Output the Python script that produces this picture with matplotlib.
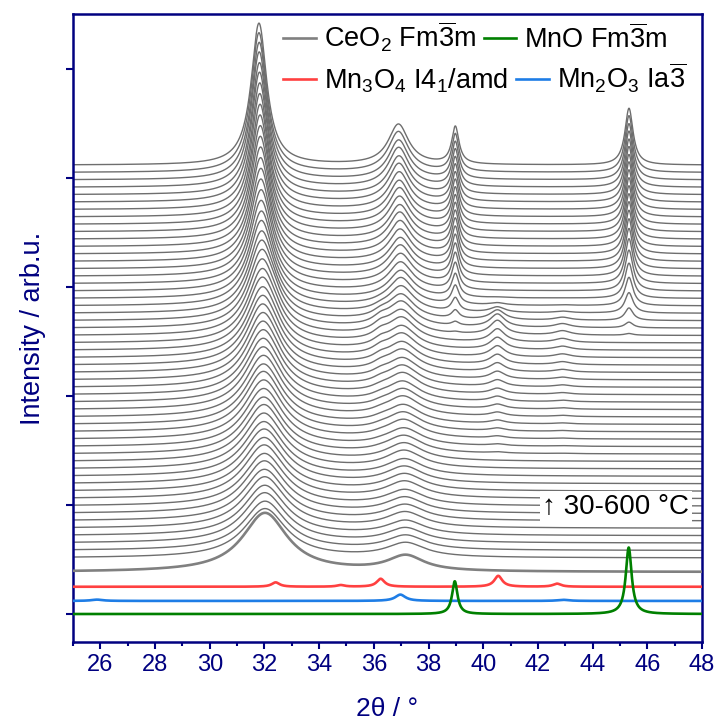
import numpy as np
import matplotlib
matplotlib.use('Agg')
import matplotlib.pyplot as plt
from matplotlib.ticker import MultipleLocator

plt.rcParams['font.family'] = ['Liberation Sans', 'DejaVu Sans']
plt.rcParams['mathtext.fontset'] = 'custom'
plt.rcParams['mathtext.rm'] = 'Liberation Sans'
plt.rcParams['mathtext.it'] = 'Liberation Sans'
plt.rcParams['mathtext.default'] = 'regular'

navy = '#000080'

# reference patterns: peak positions (2theta), heights, fwhm
ceo2_ref_pos = [32.02, 37.17]
ceo2_ref_h = [0.54, 0.14]
ceo2_ref_w = [2.0, 1.6]
mn3o4_ref_pos = [32.41, 34.79, 36.25, 40.55, 42.70]
mn3o4_ref_h = [0.040, 0.015, 0.073, 0.100, 0.028]
mn3o4_ref_w = [0.35, 0.35, 0.35, 0.35, 0.35]
mn2o3_ref_pos = [25.88, 36.97, 42.93]
mn2o3_ref_h = [0.012, 0.058, 0.010]
mn2o3_ref_w = [0.5, 0.45, 0.5]
mno_ref_pos = [38.96, 45.32]
mno_ref_h = [0.30, 0.61]
mno_ref_w = [0.24, 0.26]

# vertical position of the reference baselines
ref_base = {'ceo2': 0.385, 'mn3o4': 0.25, 'mn2o3': 0.12, 'mno': 0.0}

# in situ scans, 30-600 °C, bottom to top
scan_first_base = 0.514
scan_step = 0.068

ceo2_a_pos = [32.02, 32.02, 32.01, 32.01, 32.01, 32.00, 32.00, 32.00, 31.99, 31.99,
              31.99, 31.98, 31.98, 31.98, 31.97, 31.97, 31.97, 31.96, 31.96, 31.96,
              31.95, 31.95, 31.95, 31.94, 31.94, 31.93, 31.93, 31.93, 31.92, 31.92,
              31.91, 31.91, 31.90, 31.90, 31.89, 31.89, 31.88, 31.88, 31.87, 31.87,
              31.86, 31.86, 31.85, 31.85, 31.84, 31.84, 31.83, 31.83, 31.82, 31.82,
              31.81, 31.81, 31.80, 31.80]
ceo2_a_h = [0.45, 0.45, 0.46, 0.46, 0.47, 0.47, 0.48, 0.48, 0.49, 0.49,
            0.50, 0.50, 0.51, 0.52, 0.52, 0.53, 0.54, 0.55, 0.55, 0.56,
            0.57, 0.58, 0.59, 0.60, 0.61, 0.62, 0.63, 0.64, 0.66, 0.67,
            0.69, 0.71, 0.73, 0.75, 0.78, 0.80, 0.83, 0.86, 0.89, 0.92,
            0.95, 0.98, 1.01, 1.04, 1.07, 1.10, 1.13, 1.16, 1.19, 1.21,
            1.24, 1.26, 1.28, 1.30]
ceo2_a_w = [1.90, 1.89, 1.88, 1.87, 1.86, 1.85, 1.84, 1.83, 1.82, 1.81,
            1.80, 1.78, 1.76, 1.74, 1.72, 1.70, 1.68, 1.66, 1.64, 1.62,
            1.60, 1.57, 1.54, 1.51, 1.48, 1.45, 1.42, 1.38, 1.34, 1.30,
            1.26, 1.22, 1.18, 1.14, 1.10, 1.06, 1.02, 0.98, 0.95, 0.92,
            0.89, 0.86, 0.84, 0.82, 0.80, 0.78, 0.76, 0.75, 0.74, 0.73,
            0.72, 0.71, 0.70, 0.69]
ceo2_b_pos = [37.17, 37.17, 37.16, 37.16, 37.15, 37.15, 37.14, 37.14, 37.13, 37.13,
              37.12, 37.12, 37.11, 37.11, 37.10, 37.10, 37.09, 37.08, 37.08, 37.07,
              37.07, 37.06, 37.06, 37.05, 37.05, 37.04, 37.04, 37.03, 37.03, 37.02,
              37.01, 37.01, 37.00, 37.00, 36.99, 36.99, 36.98, 36.98, 36.97, 36.97,
              36.96, 36.96, 36.95, 36.95, 36.94, 36.94, 36.93, 36.93, 36.92, 36.92,
              36.91, 36.91, 36.90, 36.90]
ceo2_b_h = [0.13, 0.13, 0.13, 0.13, 0.14, 0.14, 0.14, 0.14, 0.15, 0.15,
            0.15, 0.15, 0.16, 0.16, 0.16, 0.16, 0.17, 0.17, 0.17, 0.18,
            0.18, 0.18, 0.19, 0.19, 0.19, 0.20, 0.20, 0.21, 0.21, 0.22,
            0.22, 0.23, 0.23, 0.24, 0.25, 0.25, 0.26, 0.27, 0.28, 0.28,
            0.29, 0.30, 0.31, 0.31, 0.32, 0.33, 0.33, 0.34, 0.35, 0.35,
            0.36, 0.36, 0.37, 0.37]
ceo2_b_w = [1.70, 1.70, 1.69, 1.69, 1.68, 1.68, 1.67, 1.67, 1.66, 1.65,
            1.64, 1.63, 1.62, 1.61, 1.60, 1.58, 1.56, 1.54, 1.52, 1.50,
            1.48, 1.46, 1.44, 1.42, 1.40, 1.37, 1.34, 1.31, 1.28, 1.25,
            1.22, 1.19, 1.16, 1.13, 1.10, 1.08, 1.06, 1.04, 1.02, 1.00,
            0.99, 0.98, 0.97, 0.96, 0.95, 0.94, 0.93, 0.92, 0.92, 0.91,
            0.91, 0.90, 0.90, 0.90]
# Mn3O4 peaks seen in the scans (at full amount) and its amount per scan
mn3o4_scan_pos = [32.41, 36.25, 40.52, 42.90]
mn3o4_scan_h = [0.025, 0.045, 0.100, 0.030]
mn3o4_scan_w = [0.7, 0.7, 0.65, 0.7]
mn3o4_scale = [0, 0, 0, 0, 0, 0, 0, 0, 0, 0,
               0, 0, 0, 0, 0.1, 0.15, 0.2, 0.25, 0.3, 0.35,
               0.4, 0.45, 0.5, 0.6, 0.7, 0.8, 0.9, 1.0, 1.1, 1.2,
               1.3, 1.2, 0.9, 0.5, 0.2, 0.05, 0, 0, 0, 0,
               0, 0, 0, 0, 0, 0, 0, 0, 0, 0,
               0, 0, 0, 0]
# MnO peaks in the scans (full height) and its growth
mno_scan_pos = [38.98, 45.33]
mno_scan_h = [0.34, 0.52]
mno_scan_w = [0.32, 0.36]
mno_frac = [0, 0, 0, 0, 0, 0, 0, 0, 0, 0,
            0, 0, 0, 0, 0, 0, 0, 0, 0, 0,
            0, 0, 0, 0, 0, 0, 0, 0, 0, 0,
            0.03, 0.10, 0.22, 0.36, 0.50, 0.62, 0.72, 0.79, 0.84, 0.88,
            0.90, 0.92, 0.93, 0.94, 0.95, 0.96, 0.97, 0.97, 0.98, 0.98,
            0.99, 0.99, 1.00, 1.00]


def lorentz(x, p, h, w):
    return h / (1 + ((x - p) / (w / 2)) ** 2)


def pattern(x, pos, h, w):
    y = np.zeros_like(x)
    for p, hh, ww in zip(pos, h, w):
        y += lorentz(x, p, hh, ww)
    return y


x = np.linspace(25, 48, 2301)

fig = plt.figure(figsize=(7.17, 7.2), dpi=100)
ax = fig.add_axes([0.1018, 0.1083, 0.8773, 0.8723])

# stacked scans
n_scans = len(ceo2_a_h)
for i in range(n_scans):
    y = scan_first_base + i * scan_step
    y = y + lorentz(x, ceo2_a_pos[i], ceo2_a_h[i], ceo2_a_w[i])
    y = y + lorentz(x, ceo2_b_pos[i], ceo2_b_h[i], ceo2_b_w[i])
    y = y + pattern(x, mn3o4_scan_pos, np.array(mn3o4_scan_h) * mn3o4_scale[i], mn3o4_scan_w)
    y = y + pattern(x, mno_scan_pos, np.array(mno_scan_h) * mno_frac[i], mno_scan_w)
    ax.plot(x, y, color='#6e6e6e', lw=1.0, zorder=2)

# references
l1, = ax.plot(x, ref_base['ceo2'] + pattern(x, ceo2_ref_pos, ceo2_ref_h, ceo2_ref_w),
              color='#808080', lw=1.9, zorder=3)
l2, = ax.plot(x, ref_base['mn3o4'] + pattern(x, mn3o4_ref_pos, mn3o4_ref_h, mn3o4_ref_w),
              color='#ff4040', lw=1.9, zorder=3)
l3, = ax.plot(x, ref_base['mn2o3'] + pattern(x, mn2o3_ref_pos, mn2o3_ref_h, mn2o3_ref_w),
              color='#1e7de6', lw=1.9, zorder=3)
l4, = ax.plot(x, ref_base['mno'] + pattern(x, mno_ref_pos, mno_ref_h, mno_ref_w),
              color='#008000', lw=1.9, zorder=4)

ax.set_xlim(25, 48)
ax.set_ylim(-0.257, 5.505)
ax.xaxis.set_minor_locator(MultipleLocator(1))
ax.set_xticks(np.arange(26, 49, 2))
ax.set_yticks(np.arange(0, 6, 1))
ax.set_yticklabels([])
ax.tick_params(axis='both', which='major', direction='out', length=5, width=1.5,
               color=navy, labelcolor=navy, labelsize=17)
ax.tick_params(axis='x', which='minor', direction='out', length=3, width=1.5, color=navy)
for s in ax.spines.values():
    s.set_color(navy)
    s.set_linewidth(1.8)

ax.set_xlabel('2θ / °', color=navy, fontsize=19, labelpad=15)
ax.set_ylabel('Intensity / arb.u.', color=navy, fontsize=19.5, labelpad=11)

# legend: two independent rows
leg_kw = dict(ncol=2, loc='center left', frameon=False, fontsize=19.5,
              handlelength=1.2, handletextpad=0.3, columnspacing=0.3,
              borderpad=0, borderaxespad=0)
leg1 = ax.legend([l1, l4], ['CeO$_2$ Fm$\\overline{3}$m', 'MnO Fm$\\overline{3}$m'],
                 bbox_to_anchor=(0.334, 0.963), **leg_kw)
ax.add_artist(leg1)
ax.legend([l2, l3], ['Mn$_3$O$_4$ I4$_1$/amd', 'Mn$_2$O$_3$ Ia$\\overline{3}$'],
          bbox_to_anchor=(0.334, 0.898), **leg_kw)

ax.text(0.98, 0.215, '↑ 30-600 °C', transform=ax.transAxes, ha='right', va='center',
        fontsize=20, zorder=6,
        bbox=dict(facecolor='white', edgecolor='none', pad=2))

fig.savefig('out.png', dpi=100)
